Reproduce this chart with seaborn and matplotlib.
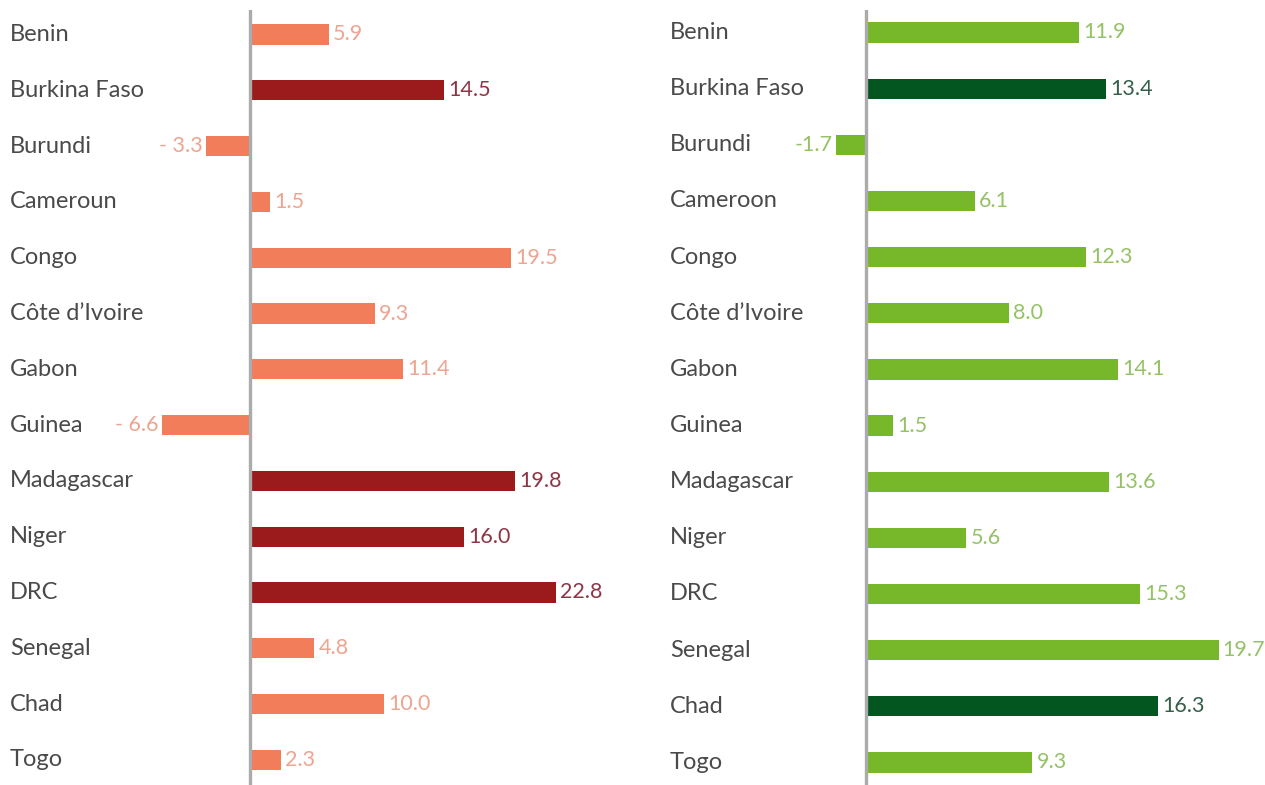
import matplotlib
matplotlib.use("Agg")
import matplotlib.pyplot as plt
import matplotlib.transforms as mtransforms
import seaborn as sns
import pandas as pd

# Left panel
countries_left = ["Benin", "Burkina Faso", "Burundi", "Cameroun", "Congo", "Côte d’Ivoire",
                  "Gabon", "Guinea", "Madagascar", "Niger", "DRC", "Senegal", "Chad", "Togo"]
values_left = [5.9, 14.5, -3.3, 1.5, 19.5, 9.3, 11.4, -6.6, 19.8, 16.0, 22.8, 4.8, 10.0, 2.3]
labels_left = ["5.9", "14.5", "- 3.3", "1.5", "19.5", "9.3", "11.4", "- 6.6", "19.8", "16.0",
               "22.8", "4.8", "10.0", "2.3"]
highlight_left = ["Burkina Faso", "Madagascar", "Niger", "DRC"]

# Right panel
countries_right = ["Benin", "Burkina Faso", "Burundi", "Cameroon", "Congo", "Côte d’Ivoire",
                   "Gabon", "Guinea", "Madagascar", "Niger", "DRC", "Senegal", "Chad", "Togo"]
values_right = [11.9, 13.4, -1.7, 6.1, 12.3, 8.0, 14.1, 1.5, 13.6, 5.6, 15.3, 19.7, 16.3, 9.3]
labels_right = ["11.9", "13.4", "-1.7", "6.1", "12.3", "8.0", "14.1", "1.5", "13.6", "5.6",
                "15.3", "19.7", "16.3", "9.3"]
highlight_right = ["Burkina Faso", "Chad"]

sns.set_theme(style="white")
plt.rcParams["font.family"] = ["Lato", "DejaVu Sans"]

W, H = 1265, 785
fig = plt.figure(figsize=(W / 100, H / 100), dpi=100)
fig.patch.set_facecolor("white")


def panel(rect_px, zero_px, px_per_unit, first_px, step_px,
          countries, values, labels, highlight,
          base_col, hi_col, base_txt, hi_txt, name_x_px):
    x0, x1 = rect_px
    ax = fig.add_axes([x0 / W, 0, (x1 - x0) / W, 775 / H])
    df = pd.DataFrame({"country": countries, "value": values})
    palette = {c: (hi_col if c in highlight else base_col) for c in countries}
    sns.barplot(data=df, x="value", y="country", hue="country", palette=palette,
                orient="h", width=0.36, legend=False, saturation=1,
                linewidth=0, ax=ax)
    ax.set_xlim((x0 - zero_px) / px_per_unit, (x1 - zero_px) / px_per_unit)
    top_i = (10 - first_px) / step_px
    bot_i = (785 - first_px) / step_px
    ax.set_ylim(bot_i, top_i)
    ax.axvline(0, color="#ababab", lw=2.4, zorder=3)
    for s in ax.spines.values():
        s.set_visible(False)
    ax.set_xticks([])
    ax.set_yticks([])
    ax.set_xlabel("")
    ax.set_ylabel("")
    ax.set_facecolor("none")

    trans = mtransforms.blended_transform_factory(fig.transFigure, ax.transData)
    for i, (c, v, lab) in enumerate(zip(countries, values, labels)):
        ax.text(name_x_px / W, i, c, transform=trans, ha="left", va="center",
                fontsize=17, color="#4a4a4a")
        col = hi_txt if c in highlight else base_txt
        if v >= 0:
            ax.annotate(lab, (v, i), xytext=(3, 0), textcoords="offset points",
                        ha="left", va="center", fontsize=15.5, color=col)
        else:
            ax.annotate(lab, (v, i), xytext=(-2, 0), textcoords="offset points",
                        ha="right", va="center", fontsize=15.5, color=col)
    return ax


panel((150, 640), 250, 13.4, 34.5, 55.8,
      countries_left, values_left, labels_left, highlight_left,
      "#f27d5a", "#9b1a1b", "#eda490", "#8e3545", 10)
panel((820, 1265), 866, 17.9, 32.5, 56.15,
      countries_right, values_right, labels_right, highlight_right,
      "#77b82a", "#03561f", "#95c266", "#34604a", 670)

fig.savefig("out.png", dpi=100, facecolor="white")
